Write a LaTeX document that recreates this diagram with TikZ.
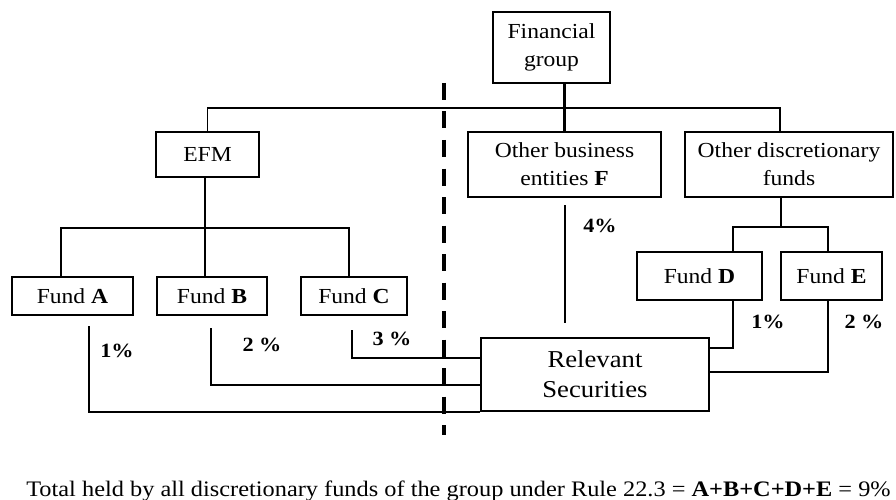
\documentclass[tikz,border=0pt]{standalone}
\usepackage{fontspec}
\setmainfont{Liberation Serif}[FakeStretch=1.1]
\usetikzlibrary{calc,positioning}
\tikzset{holder/.style args = {(#1,#2)}{%
		draw, line width=1.5pt, minimum width=#1, minimum height=#2,
		inner sep=0pt, align=center, font=\fontsize{12.2}{15.9}\selectfont}}
\tikzset{link/.style={line width=1.2pt}}
\tikzset{pct/.style={font=\fontsize{11.5}{14}\selectfont\bfseries}}

\begin{document}
\begin{tikzpicture}[x=0.02cm, y=-0.02cm]
			\useasboundingbox (0,0) rectangle (896,500);
			
			% boxes
			\node[holder={(117*0.02cm,71*0.02cm)}] (fin) at (551.5,47.5) {Financial\\group};
			\node[holder={(103*0.02cm,45*0.02cm)}] (efm) at (207.5,154.5) {EFM};
			\node[holder={(193*0.02cm,65*0.02cm)}] (obe) at (564.5,164.5) {Other business\\entities \textbf{F}};
			\node[holder={(208*0.02cm,65*0.02cm)}] (odf) at (789,164.5) {Other discretionary\\funds};
			\node[holder={(121*0.02cm,38*0.02cm)}] (fa) at (72.5,296) {Fund \textbf{A}};
			\node[holder={(110*0.02cm,38*0.02cm)}] (fb) at (212,296) {Fund \textbf{B}};
			\node[holder={(106*0.02cm,38*0.02cm)}] (fc) at (354,296) {Fund \textbf{C}};
			\node[holder={(125*0.02cm,48*0.02cm)}] (fd) at (699.5,276) {Fund \textbf{D}};
			\node[holder={(101*0.02cm,48*0.02cm)}] (fe) at (831.5,276) {Fund \textbf{E}};
			\node[holder={(228*0.02cm,73*0.02cm)}, font=\fontsize{13.8}{17}\selectfont] (rs) at (595,374.5) {Relevant\\Securities};
			
			% tree
			\coordinate (bus1) at (565,108);
			\coordinate (bus2) at (205,228);
			\coordinate (bus3) at (781,227);
			\draw[link] (fin.south -| obe.north) -- (obe.north);
			\draw[link, line width=1pt] (efm.north) |- (bus1) -| (odf.north -| fe.west);
			\draw[link] (efm.south -| bus2) -- (bus2);
			\draw[link] ($(fa.north)+(-11.5,0)$) |- (bus2) -| ($(fc.north)+(-5,0)$);
			\draw[link] (bus2) -- (fb.north -| bus2);
			\draw[link] (odf.south -| bus3) -- (bus3);
			\draw[link] ($(fd.north)+(33.5,0)$) |- (bus3) -| ($(fe.north)+(-3.5,0)$);
			
			% holdings
			\coordinate (la) at (89,326);
			\coordinate (lb) at (211,328);
			\coordinate (lc) at (352,330);
			\coordinate (lf) at (565,205);
			\draw[link] (la) |- (rs.south west);
			\draw[link] (lb) |- ($(rs.west)+(0,10.5)$);
			\draw[link] (lc) |- ($(rs.west)+(0,-16.5)$);
			\draw[link] (lf) -- (565,323);
			\draw[link] ($(fd.south)+(33.5,0)$) |- ($(rs.east)+(0,-26.5)$);
			\draw[link] ($(fe.south)+(-3.5,0)$) |- ($(rs.east)+(0,-2.5)$);
			
			\node[pct] (pa) at (117,351) {1\%};
			\node[pct] (pb) at (262,345) {2 \%};
			\node[pct] (pc) at (392,339) {3 \%};
			\node[pct] (pf) at (600,226) {4\%};
			\node[pct] (pd) at (768,322) {1\%};
			\node[pct] (pe) at (864,322) {2 \%};
			
			% divide
			\coordinate (cut1) at (444,83);
			\coordinate (cut2) at (444,435);
			\draw[line width=2pt, dash pattern=on 17*0.02cm off 11.5*0.02cm] (cut1) -- (cut2);
			
			\node[font=\fontsize{12.6}{15}\selectfont, anchor=base] (total) at (458.5,496) {Total held by all discretionary funds of the group under Rule 22.3 = \textbf{A+B+C+D+E} = 9\%};
\end{tikzpicture}
\end{document}
